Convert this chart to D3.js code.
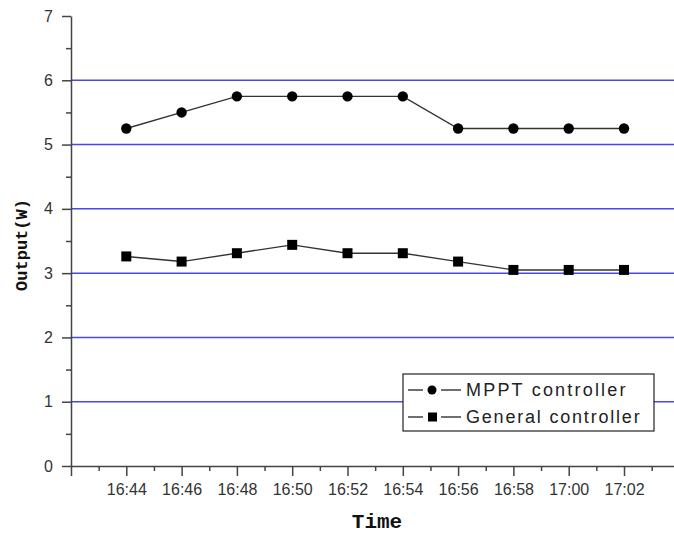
<!DOCTYPE html>
<html>
<head>
<meta charset="utf-8">
<script src="https://cdn.jsdelivr.net/npm/d3@7"></script>
<style>
html, body { margin: 0; padding: 0; background: #fff; }
svg { display: block; }
</style>
</head>
<body>
<svg id="chart" width="674" height="537"></svg>
<script>
const times = ["16:44","16:46","16:48","16:50","16:52","16:54","16:56","16:58","17:00","17:02"];
const mpptValues = [5.25, 5.5, 5.75, 5.75, 5.75, 5.75, 5.25, 5.25, 5.25, 5.25];
const generalValues = [3.26, 3.18, 3.31, 3.44, 3.31, 3.31, 3.18, 3.05, 3.05, 3.05];
const yTicks = [0, 1, 2, 3, 4, 5, 6, 7];
const seriesNames = ["MPPT controller", "General controller"];

const toMin = s => { const [h, m] = s.split(":").map(Number); return h * 60 + m - (16 * 60 + 42); };

const svg = d3.select("#chart");
const x = d3.scaleLinear().domain([0, 22]).range([71, 71 + 22 * 27.65]);
const y = d3.scaleLinear().domain([0, 7]).range([466, 16]);

// grid lines
svg.append("g").selectAll("line").data(yTicks.filter(d => d > 0 && d < 7)).join("line")
  .attr("x1", x(0)).attr("x2", 674)
  .attr("y1", d => y(d)).attr("y2", d => y(d))
  .attr("stroke", "#4848ee").attr("stroke-width", 1.5);

const axisColor = "#444";
// minor y ticks
svg.append("g").attr("transform", `translate(${x(0)},0)`)
  .call(d3.axisLeft(y).tickValues(d3.range(0.5, 7, 1)).tickSize(5).tickFormat(""))
  .call(g => g.select(".domain").remove())
  .call(g => g.selectAll("line").attr("stroke", axisColor).attr("stroke-width", 1.5));
// major y axis
svg.append("g").attr("transform", `translate(${x(0)},0)`)
  .call(d3.axisLeft(y).tickValues(yTicks).tickSize(9).tickSizeOuter(0).tickPadding(9).tickFormat(d3.format("d")))
  .call(g => g.select(".domain").attr("stroke", axisColor).attr("stroke-width", 1.5))
  .call(g => g.selectAll("line").attr("stroke", axisColor).attr("stroke-width", 1.5))
  .call(g => g.selectAll("text").attr("font-family", "Liberation Sans, Arial, sans-serif")
     .attr("font-size", 16).attr("fill", "#333"));

// minor x ticks
svg.append("g").attr("transform", `translate(0,${y(0)})`)
  .call(d3.axisBottom(x).tickValues(d3.range(1, 22, 2)).tickSize(5).tickFormat(""))
  .call(g => g.select(".domain").remove())
  .call(g => g.selectAll("line").attr("stroke", axisColor).attr("stroke-width", 1.5));
// major x axis
const majorX = [0].concat(times.map(toMin)).concat([22]);
svg.append("g").attr("transform", `translate(0,${y(0)})`)
  .call(d3.axisBottom(x).tickValues(majorX).tickSize(10).tickSizeOuter(0).tickPadding(8)
    .tickFormat(d => { const i = times.map(toMin).indexOf(d); return i >= 0 ? times[i] : ""; }))
  .call(g => g.select(".domain").attr("stroke", axisColor).attr("stroke-width", 1.5))
  .call(g => g.selectAll("line").attr("stroke", axisColor).attr("stroke-width", 1.5))
  .call(g => g.selectAll("text").attr("font-family", "Liberation Sans, Arial, sans-serif")
     .attr("font-size", 16).attr("fill", "#333"));

// series
const line = d3.line().x((d, i) => x(toMin(times[i]))).y(d => y(d));
svg.append("path").datum(mpptValues).attr("d", line)
  .attr("fill", "none").attr("stroke", "#333").attr("stroke-width", 1.4);
svg.append("path").datum(generalValues).attr("d", line)
  .attr("fill", "none").attr("stroke", "#333").attr("stroke-width", 1.4);

svg.append("g").selectAll("circle").data(mpptValues).join("circle")
  .attr("cx", (d, i) => x(toMin(times[i]))).attr("cy", d => y(d)).attr("r", 5.2).attr("fill", "#000");
const sq = 10;
svg.append("g").selectAll("rect").data(generalValues).join("rect")
  .attr("x", (d, i) => x(toMin(times[i])) - sq / 2).attr("y", d => y(d) - sq / 2)
  .attr("width", sq).attr("height", sq).attr("fill", "#000");

// legend
const lg = svg.append("g");
lg.append("rect").attr("x", 403).attr("y", 374).attr("width", 251).attr("height", 57)
  .attr("fill", "#fff").attr("stroke", "#222").attr("stroke-width", 1.2);
const rows = [396 - 6, 423 - 6];
seriesNames.forEach((name, i) => {
  const cy = rows[i];
  lg.append("line").attr("x1", 408).attr("x2", 423).attr("y1", cy).attr("y2", cy).attr("stroke", "#222").attr("stroke-width", 1.3);
  lg.append("line").attr("x1", 441).attr("x2", 461).attr("y1", cy).attr("y2", cy).attr("stroke", "#222").attr("stroke-width", 1.3);
  if (i === 0) lg.append("circle").attr("cx", 432).attr("cy", cy).attr("r", 4.5).attr("fill", "#000");
  else lg.append("rect").attr("x", 428).attr("y", cy - 4.5).attr("width", 9).attr("height", 9).attr("fill", "#000");
  lg.append("text").attr("x", 466).attr("y", cy + 6).text(name)
    .attr("font-family", "Liberation Sans, Arial, sans-serif").attr("font-size", 18)
    .attr("letter-spacing", i === 0 ? 2.2 : 1.8).attr("fill", "#222");
});

// axis titles
svg.append("text").attr("x", 377).attr("y", 528).attr("text-anchor", "middle")
  .attr("font-family", "Liberation Mono, monospace").attr("font-size", 21).attr("font-weight", "bold").attr("fill", "#111")
  .text("Time");
svg.append("text").attr("transform", "translate(27,245) rotate(-90)").attr("text-anchor", "middle")
  .attr("font-family", "Liberation Mono, monospace").attr("font-size", 17).attr("font-weight", "bold").attr("fill", "#111")
  .text("Output(W)");
</script>
</body>
</html>
